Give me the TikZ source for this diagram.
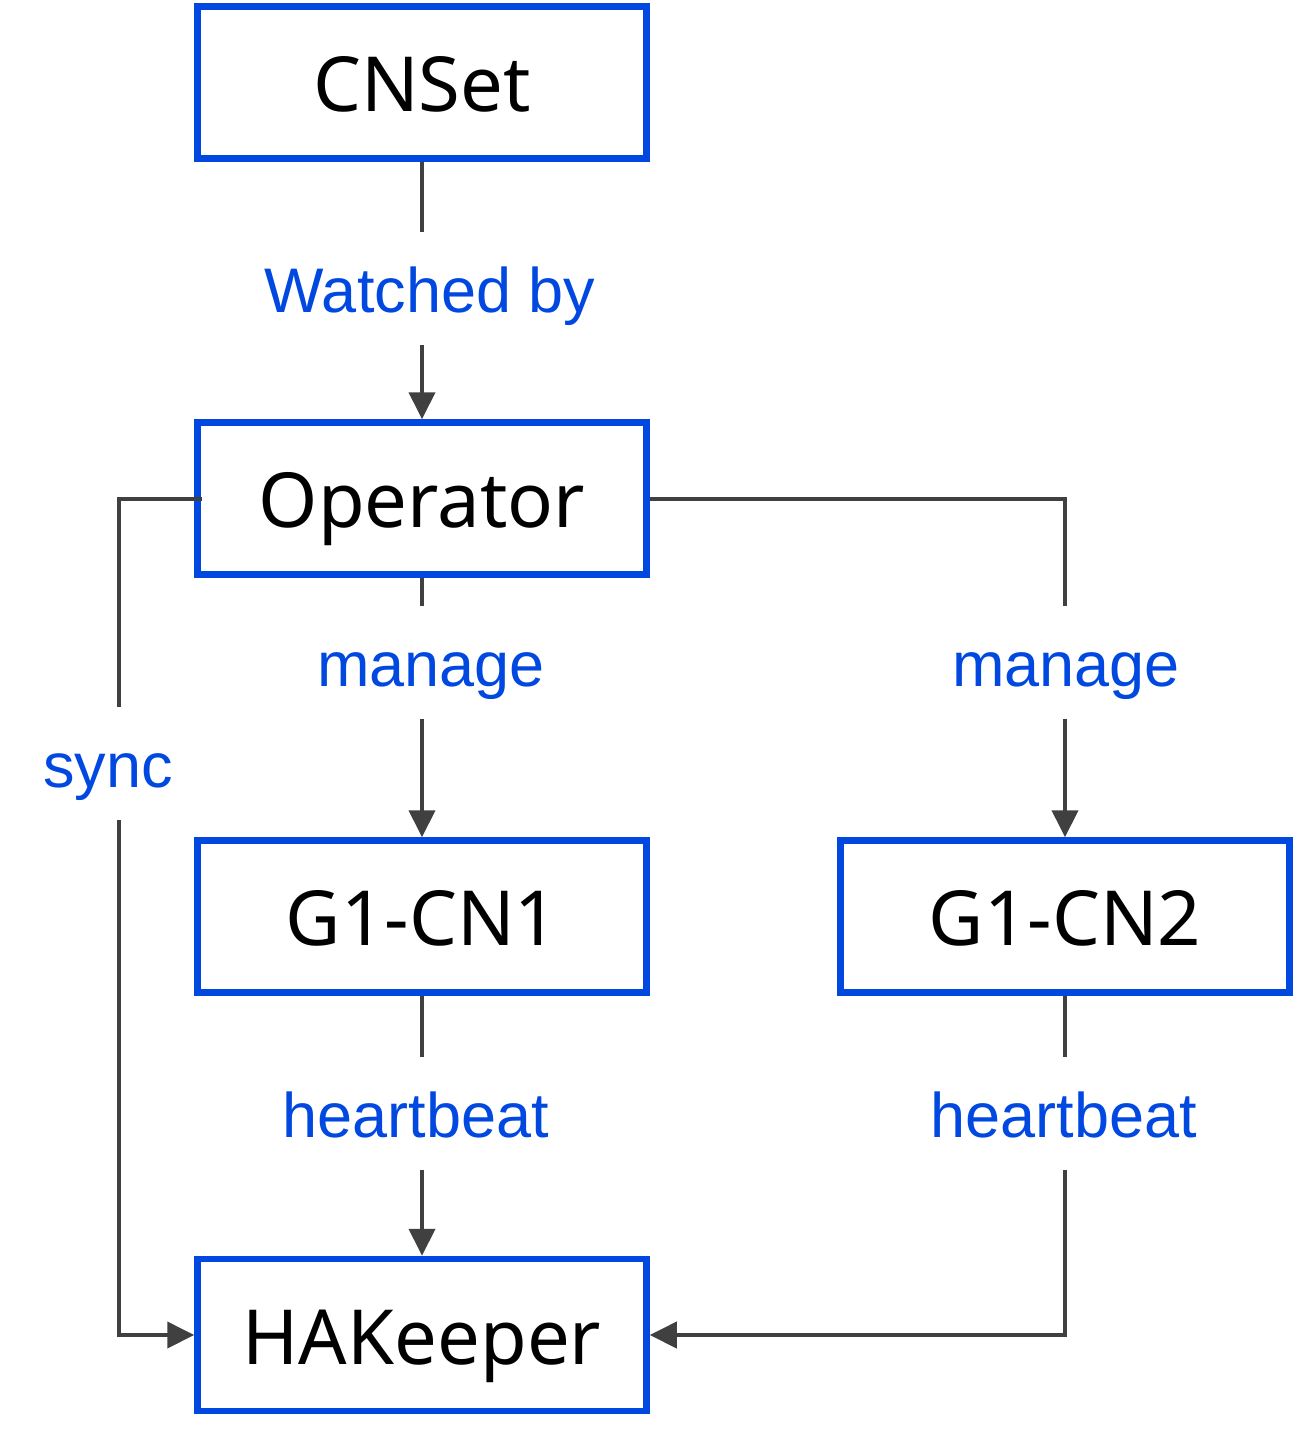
\documentclass[tikz,border=0pt]{standalone}
\usepackage{fontspec}
\setmainfont{Noto Sans}
\newfontfamily\labfont{Liberation Sans}
\usetikzlibrary{arrows.meta}
\definecolor{bblue}{RGB}{0,72,224}
\definecolor{lgrey}{RGB}{64,64,64}
\begin{document}
\begin{tikzpicture}[x=1pt,y=-1pt,
 box/.style={draw=bblue,line width=6.5pt,minimum width=449pt,minimum height=152pt,inner sep=0pt,font=\fontsize{76}{80}\selectfont,text height=58pt,text depth=0pt},
 lab/.style={text=bblue,font=\labfont\fontsize{63}{70}\selectfont,inner xsep=0pt,inner ysep=31pt,text height=49pt,text depth=2pt,anchor=base},
 conn/.style={draw=lgrey,line width=4pt},
 arr/.style={conn,-{Triangle[width=26pt,length=27pt]}}]
\useasboundingbox (0,0) rectangle (1297,1434);
\node[box] (cn) at (422,82.5) {CNSet};
\node[box] (op) at (422,498.5) {Operator};
\node[box] (g1) at (422,916.5) {G1-CN1};
\node[box] (g2) at (1065,916.5) {G1-CN2};
\node[box] (hk) at (422,1335) {HAKeeper};
\node[lab] (wb) at (430,312) {Watched by};
\node[lab] (m1) at (431,686) {manage};
\node[lab] (m2) at (1066,686) {manage};
\node[lab] (sy) at (108,787) {sync};
\node[lab] (h1) at (416,1137) {heartbeat};
\node[lab] (h2) at (1064,1137) {heartbeat};
\coordinate (sx) at (119,0);
\draw[conn] (cn.south) -- (cn.south |- wb.north);
\draw[arr] (cn.south |- wb.south) -- (op.north);
\draw[conn] (op.south) -- (op.south |- m1.north);
\draw[arr] (op.south |- m1.south) -- (g1.north);
\draw[conn] (op.east) -| (g2.north |- m2.north);
\draw[arr] (g2.north |- m2.south) -- (g2.north);
\draw[conn] ([xshift=8pt]op.west) -| (sx |- sy.north);
\draw[arr] (sx |- sy.south) |- (hk.west);
\draw[conn] (g1.south) -- (g1.south |- h1.north);
\draw[arr] (g1.south |- h1.south) -- (hk.north);
\draw[conn] (g2.south) -- (g2.south |- h2.north);
\draw[arr] (g2.south |- h2.south) |- (hk.east);
\end{tikzpicture}
\end{document}
